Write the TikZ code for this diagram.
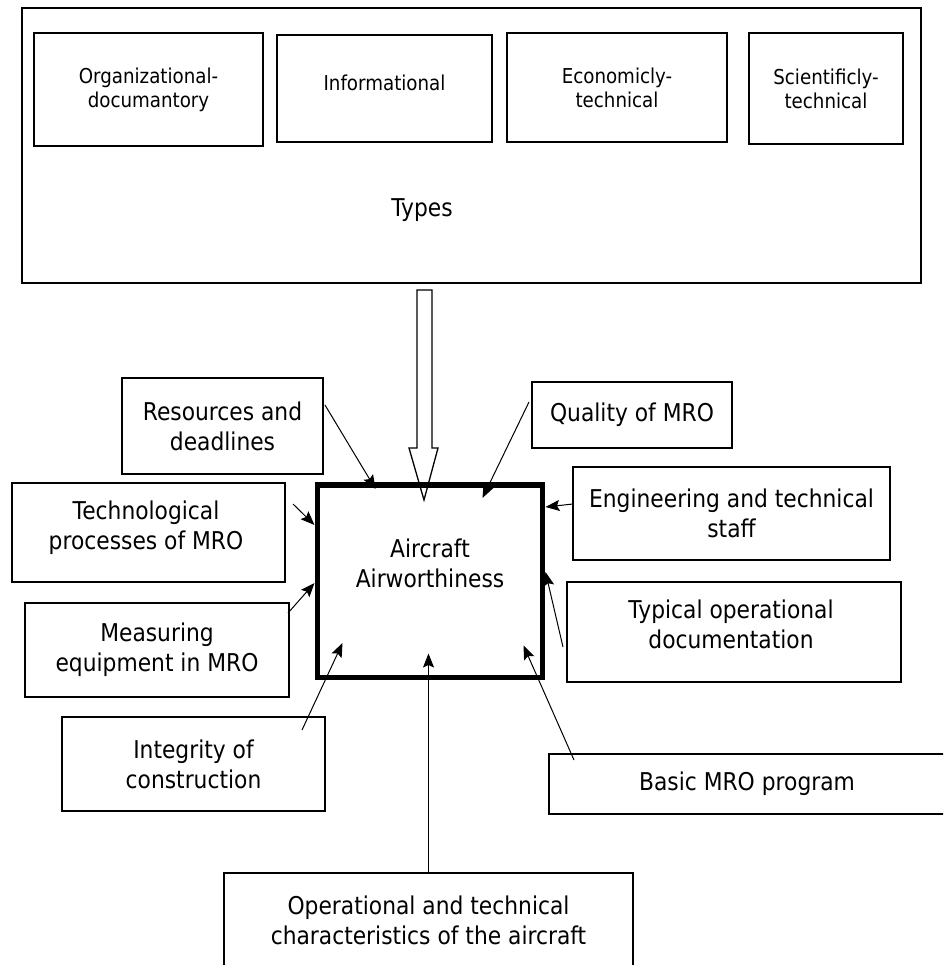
\documentclass[tikz,border=0pt]{standalone}
\usepackage{fontspec}
\setmainfont{DejaVu Sans}[FakeStretch=0.89]
\usetikzlibrary{arrows.meta,calc}
\begin{document}
\begin{tikzpicture}[x=1pt,y=-1pt,
  box/.style={draw, line width=1.4pt, inner sep=0pt, outer sep=0pt, align=center},
  smalltxt/.style={font=\fontsize{20.5}{24}\selectfont},
  bigtxt/.style={font=\fontsize{24.5}{30}\selectfont},
  lbl/.style={align=center, inner sep=0pt},
  arr/.style={line width=1pt, -{Stealth[length=14pt,width=11pt,inset=2.5pt]}},
  mainbox/.style={draw, line width=5.5pt, inner sep=0pt, outer sep=0pt}]
\useasboundingbox (0,0) rectangle (943,965);
\clip (0,0) rectangle (943,965);

% outer "Types" frame with its four kinds
\node[box, minimum width=899pt, minimum height=275pt] (types) at (471.5,145.5) {};
\node[bigtxt, lbl] (typeslbl) at (422,210) {Types};
\node[box, smalltxt, minimum width=229pt, minimum height=113pt] (org) at (148.5,89.5) {Organizational-\\documantory};
\node[box, minimum width=215pt, minimum height=107pt] (info) at (384.5,88.5) {};
\node[smalltxt, lbl] (infolbl) at (384.5,83) {Informational};
\node[box, smalltxt, minimum width=220pt, minimum height=109pt] (econ) at (617,87.5) {Economicly-\\technical};
\node[box, smalltxt, minimum width=154pt, minimum height=111pt] (sci) at (826,88.5) {Scientificly-\\technical};

% central block
\node[mainbox, minimum width=225pt, minimum height=192.5pt] (main) at (430,581.25) {};
\node[bigtxt, lbl] (mainlbl) at (430,563) {Aircraft\\Airworthiness};

% hollow arrow from the types frame
\coordinate (hA) at (424.5,290);
\draw[line width=1.3pt, line join=miter]
  ($(hA)+(-7.5,0)$) -- ++(15,0) -- ++(0,158) -- ++(6,0) -- ($(hA)+(-0.5,210)$)
  -- ($(hA)+(-15.5,158)$) -- ++(8,0) -- cycle;

% influencing factors
\node[box, bigtxt, minimum width=201pt, minimum height=96pt] (res) at (222.5,426) {Resources and\\deadlines};
\node[box, minimum width=273pt, minimum height=99pt] (tech) at (148.5,532.5) {};
\node[bigtxt, lbl] (techlbl) at (146,527.5) {Technological\\processes of MRO};
\node[box, bigtxt, minimum width=264pt, minimum height=94pt] (meas) at (157,650) {Measuring\\equipment in MRO};
\node[box, bigtxt, minimum width=200pt, minimum height=66pt] (qual) at (632,415) {Quality of MRO};
\node[box, bigtxt, minimum width=317pt, minimum height=93pt] (eng) at (731.5,513.5) {Engineering and technical\\staff};
\node[box, minimum width=334pt, minimum height=100pt] (typ) at (734,632) {};
\node[bigtxt, lbl] (typlbl) at (731,624) {Typical operational\\documentation};
\node[box, bigtxt, minimum width=263pt, minimum height=94pt] (integ) at (193.5,764) {Integrity of\\construction};
\node[box, bigtxt, minimum width=396pt, minimum height=60pt] (basic) at (747,784) {Basic MRO program};
\node[box, bigtxt, minimum width=409pt, minimum height=94pt] (oper) at (428.5,920) {Operational and technical\\characteristics of the aircraft};

% connectors into the central block
\coordinate (mB) at ($(main.south)+(0,-24)$);
\draw[arr] ($(res.east)+(2,-21)$) -- ($(main.north west)+(58,4)$);
\draw[arr] ($(tech.north east)+(8,21)$) -- ($(main.north west)+(-3,40)$);
\draw[arr] ($(meas.north east)+(-1,10)$) -- ($(main.north west)+(-3,98)$);
\draw[arr] ($(integ.north east)+(-23,13)$) -- ($(main.north west)+(25,158)$);
\draw[arr] (oper.north) -- (oper.north |- mB);
\draw[arr] ($(basic.north west)+(25,6)$) -- ($(main.south east)+(-19,-32)$);
\draw[arr] ($(typ.west)+(-4,15)$) -- ($(main.north east)+(3,87)$);
\draw[arr] ($(eng.west)+(0,-9.5)$) -- ($(main.north east)+(3,22)$);
\draw[arr] ($(qual.west)+(-3,-13)$) -- ($(main.north west)+(165,13)$);
\end{tikzpicture}
\end{document}
